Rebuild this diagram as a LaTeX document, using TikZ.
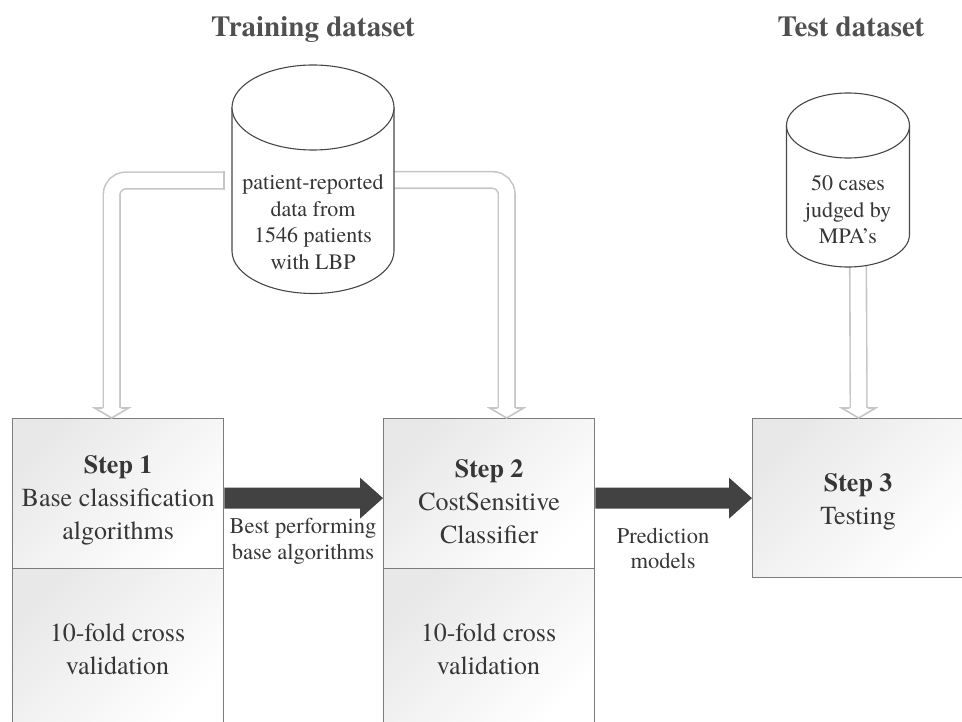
\documentclass[tikz,border=0pt]{standalone}
\usepackage{fontspec}
\setmainfont{texgyretermes}[Extension=.otf, UprightFont=*-regular, BoldFont=*-bold,
  ItalicFont=*-italic, BoldItalicFont=*-bolditalic]
\usetikzlibrary{calc}
\definecolor{ink}{HTML}{363636}
\definecolor{titleink}{HTML}{505050}
\definecolor{frame}{HTML}{7C7C7C}
\definecolor{pipegray}{HTML}{C6C6C6}
\definecolor{heavy}{HTML}{424242}
\begin{document}
\begin{tikzpicture}[x=1pt,y=-1pt,
  stepbox/.style={draw=frame, line width=1.3pt, top color=black!9, bottom color=white,
    shading angle=45, minimum width=211pt, anchor=north west, inner sep=0pt},
  steptext/.style={text=ink, align=center, inner sep=0pt,
    font=\fontsize{26}{33}\selectfont},
  cyl/.style={draw=black!72, line width=1.1pt, fill=white},
  body/.style={inner sep=0pt, outer sep=0pt},
  cyltext/.style={text=ink, align=center, font=\fontsize{22}{26.5}\selectfont},
  title/.style={text=titleink, anchor=base, font=\fontsize{29}{32}\selectfont\bfseries},
  flowlabel/.style={text=ink, align=center, font=\fontsize{22.5}{25.5}\selectfont},
  pipe/.style={draw=pipegray, line width=1.6pt, double=white, double distance=15pt,
    rounded corners=14pt},
  pipeedge/.style={draw=pipegray, line width=1.6pt},
  pipehead/.style={draw=pipegray, fill=white, line width=1.6pt, line join=miter},
  heavyarrow/.style={fill=heavy}
]
\useasboundingbox (0,0) rectangle (962,722);
\clip (0,0) rectangle (962,722);

% titles
\node[title] (t1) at (313,37) {Training dataset};
\node[title] (t2) at (851,37) {Test dataset};

% step boxes (lower halves run past the bottom edge)
\node[stepbox, minimum height=150pt] (s1) at (12,418) {};
\node[stepbox, minimum height=160pt] (s1b) at (12,568) {};
\node[stepbox, minimum height=150pt] (s2) at (383,418) {};
\node[stepbox, minimum height=160pt] (s2b) at (383,568) {};
\node[stepbox, minimum height=159pt] (s3) at (752,418) {};

\node[steptext] (s1t) at ($(s1.center)+(0,7)$)
  {\textbf{Step 1}\\Base classification\\algorithms};
\node[steptext] (s1bt) at (117.5,649) {10-fold cross\\validation};
\node[steptext] (s2t) at ($(s2.center)+(0,8)$)
  {\textbf{Step 2}\\CostSensitive\\Classifier};
\node[steptext] (s2bt) at (488.5,649) {10-fold cross\\validation};
\node[steptext] (s3t) at ($(s3.center)+(0,4)$) {\textbf{Step 3}\\Testing};

% cylinder bodies used as connector anchors
\node[body, minimum width=162pt, minimum height=144pt] (db1) at (313,179) {};
\node[body, minimum width=123pt, minimum height=109pt] (db2) at (848,180) {};

% hollow feed pipes
\coordinate (p1s) at ($(db1.west)+(-8,1.5)$);
\coordinate (p1e) at ($(s1.north)+(-6.5,-10)$);
\coordinate (p2s) at ($(db1.east)+(-4,1)$);
\coordinate (p2e) at ($(s2.north)+(17.5,-10)$);
\coordinate (p3s) at ($(db2.south)+(10,20)$);
\coordinate (p3e) at ($(s3.north)+(0.5,-10)$);

\draw[pipe] (p1s) -| (p1e);
\draw[pipeedge] ($(p1s)+(0,-9.1)$) -- ($(p1s)+(0,9.1)$);
\draw[pipe] (p2s) -| (p2e);
\draw[pipe] (p3s) -- (p3e);
\foreach \e in {p1e,p2e,p3e}{
  \filldraw[pipehead] ($(\e)+(-9.1,0)$) -- ($(\e)+(-17,0)$) -- ($(\e)+(0,10)$)
    -- ($(\e)+(17,0)$) -- ($(\e)+(9.1,0)$);
}

% training cylinder
\draw[cyl] (232,107.5) -- (232,251)
  arc[start angle=180, end angle=0, x radius=81, y radius=42.5] -- (394,107.5);
\draw[cyl] (313,107.5) ellipse[x radius=81, y radius=42.5];
\node[cyltext] (d1) at (313,222) {patient-reported\\data from\\1546 patients\\with LBP};

% test cylinder
\draw[cyl] (786.5,125.5) -- (786.5,234.5)
  arc[start angle=180, end angle=0, x radius=61.5, y radius=32.5] -- (909.5,125.5);
\draw[cyl] (848,125.5) ellipse[x radius=61.5, y radius=32.5];
\node[cyltext] (d2) at (848,210) {50 cases\\judged by\\MPA's};

% block arrows between the steps
\coordinate (a1s) at ($(s1.east)+(0,4.5)$);
\coordinate (a1e) at ($(s2.west)+(0,4.5)$);
\coordinate (a2s) at (s2.east |- s3.west);
\coordinate (a2e) at (s3.west);
\foreach \s/\e in {a1s/a1e,a2s/a2e}{
  \fill[heavyarrow] ($(\s)+(0,-10.5)$) -- ($(\e)+(-23,-10.5)$) -- ($(\e)+(-23,-20.5)$)
    -- (\e) -- ($(\e)+(-23,20.5)$) -- ($(\e)+(-23,10.5)$) -- ($(\s)+(0,10.5)$) -- cycle;
}
\node[flowlabel] (l1) at (303,541.5) {Best performing\\base algorithms};
\node[flowlabel] (l2) at (663,548.5) {Prediction\\models};
\end{tikzpicture}
\end{document}
